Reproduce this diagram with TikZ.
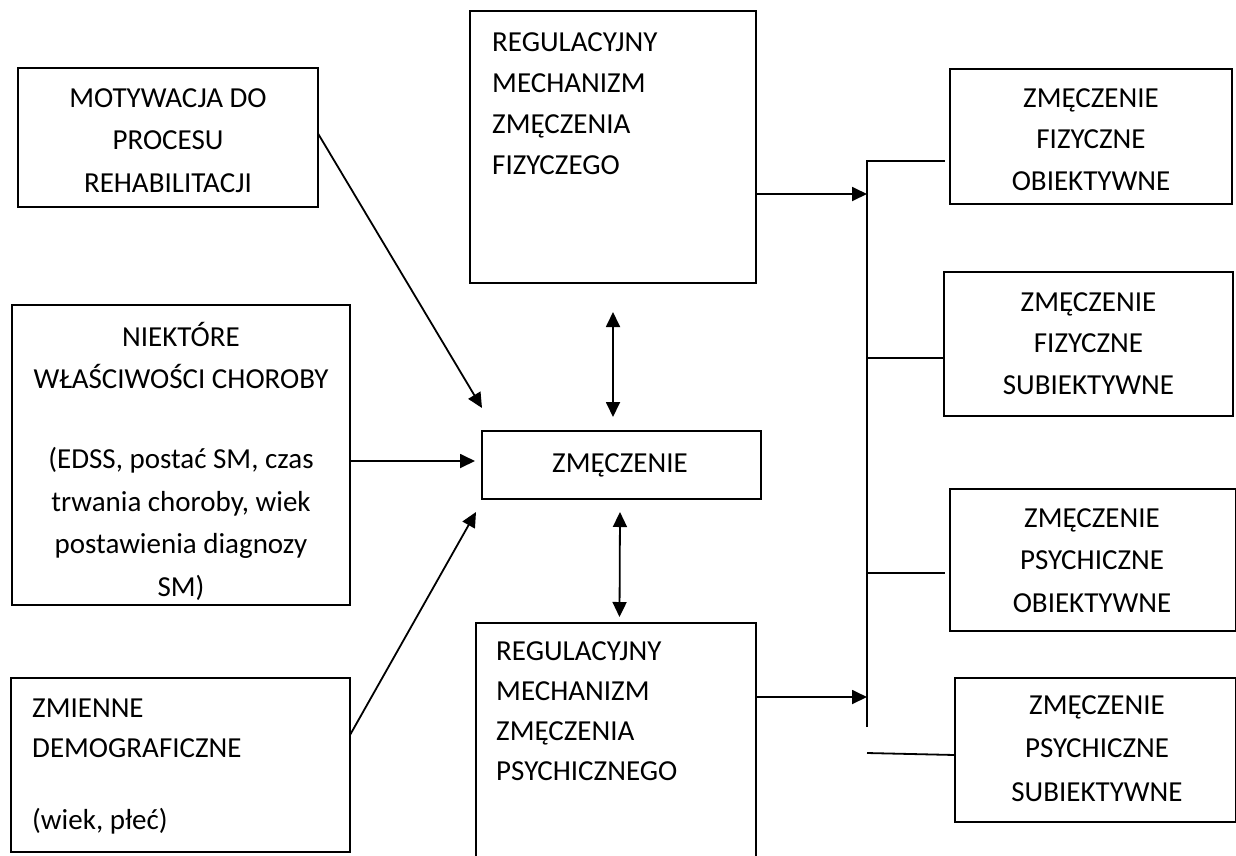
\documentclass[tikz,border=0pt]{standalone}
\usepackage{fontspec}
\setmainfont{Carlito}
\usetikzlibrary{arrows.meta}
\begin{document}
\begin{tikzpicture}[x=1pt,y=-1pt,
  box/.style={draw, line width=1.8pt, inner sep=0pt, outer sep=0pt},
  ln/.style={line width=1.8pt},
  arr/.style={ln, -{Triangle[length=15pt,width=14pt]}},
  darr/.style={ln, {Triangle[length=15pt,width=14pt]}-{Triangle[length=15pt,width=14pt]}},
  ts/.style={inner sep=0pt, font=\fontsize{29}{#1}\selectfont},
  ts/.default=42.5
]
\useasboundingbox (0,0) rectangle (1236,855);
\clip (0,0) rectangle (1236,855);

% boxes
\node[box, minimum width=300pt, minimum height=139pt] (mot) at (168,137.5) {};
\node[box, minimum width=338pt, minimum height=300pt] (niek) at (181,455) {};
\node[box, minimum width=339pt, minimum height=174pt] (zmien) at (180.5,765) {};
\node[box, minimum width=286pt, minimum height=272pt] (reg1) at (613,147) {};
\node[box, minimum width=279pt, minimum height=68pt] (zm) at (621.5,465) {};
\node[box, minimum width=280pt, minimum height=257pt] (reg2) at (616,751.5) {};
\node[box, minimum width=282pt, minimum height=135pt] (r1) at (1091,136.5) {};
\node[box, minimum width=289pt, minimum height=144pt] (r2) at (1088.5,344) {};
\node[box, minimum width=286pt, minimum height=142pt] (r3) at (1093,560) {};
\node[box, minimum width=281pt, minimum height=144pt] (r4) at (1095.5,750) {};

% texts
\node[ts, anchor=base] (tmot) at (168,107) {\begin{tabular}[t]{@{}c@{}}MOTYWACJA DO\\PROCESU\\REHABILITACJI\end{tabular}};
\node[ts, anchor=base] (tniek) at (181,346) {\begin{tabular}[t]{@{}c@{}}NIEKTÓRE\\WŁAŚCIWOŚCI CHOROBY\\[37.5pt](EDSS, postać SM, czas\\trwania choroby, wiek\\postawienia diagnozy\\SM)\end{tabular}};
\node[ts=40, anchor=base west] (tzmien) at (32,717) {\begin{tabular}[t]{@{}l@{}}ZMIENNE\\DEMOGRAFICZNE\\[32pt](wiek, płeć)\end{tabular}};
\node[ts=41, anchor=base west] (treg1) at (492,51) {\begin{tabular}[t]{@{}l@{}}REGULACYJNY\\MECHANIZM\\ZMĘCZENIA\\FIZYCZEGO\end{tabular}};
\node[ts, anchor=base] (tzm) at (620,472) {ZMĘCZENIE};
\node[ts=40, anchor=base west] (treg2) at (496,660) {\begin{tabular}[t]{@{}l@{}}REGULACYJNY\\MECHANIZM\\ZMĘCZENIA\\PSYCHICZNEGO\end{tabular}};
\node[ts=41.5, anchor=base] (tr1) at (1091,107) {\begin{tabular}[t]{@{}c@{}}ZMĘCZENIE\\FIZYCZNE\\OBIEKTYWNE\end{tabular}};
\node[ts=41.5, anchor=base] (tr2) at (1088.5,311) {\begin{tabular}[t]{@{}c@{}}ZMĘCZENIE\\FIZYCZNE\\SUBIEKTYWNE\end{tabular}};
\node[ts=42.5, anchor=base] (tr3) at (1092,527) {\begin{tabular}[t]{@{}c@{}}ZMĘCZENIE\\PSYCHICZNE\\OBIEKTYWNE\end{tabular}};
\node[ts=43.5, anchor=base] (tr4) at (1097,714) {\begin{tabular}[t]{@{}c@{}}ZMĘCZENIE\\PSYCHICZNE\\SUBIEKTYWNE\end{tabular}};

% connector points
\coordinate (tT) at (867,161);
\coordinate (tB) at (867,727);
\coordinate (t1) at (867,194);
\coordinate (t2) at (867,358);
\coordinate (t3) at (867,573);
\coordinate (t4) at (867,697);
\coordinate (b1) at (945,161);
\coordinate (b3) at (945,573);
\coordinate (s4) at (867,753);
\coordinate (d1a) at (613,312);
\coordinate (d1b) at (613,417);
\coordinate (d2a) at (620,512);
\coordinate (d2b) at (619.5,617);
\coordinate (inM) at (482,408);
\coordinate (inN) at (475,461);
\coordinate (inZ) at (476,512);

% right side
\draw[ln] (tB) -- (tT) -- (b1);
\draw[arr] (reg1.east |- t1) -- (t1);
\draw[ln] (t2) -- (r2.west |- t2);
\draw[ln] (t3) -- (b3);
\draw[arr] (reg2.east |- t4) -- (t4);
\draw[ln] (s4) -- ([yshift=-5pt]r4.west);

% middle
\draw[darr] (d1a) -- (d1b);
\draw[darr] (d2a) -- (d2b);

% left inputs
\draw[arr] ([yshift=4pt]mot.east) -- (inM);
\draw[arr] (niek.east |- inN) -- (inN);
\draw[arr] ([yshift=30pt]zmien.east) -- (inZ);
\end{tikzpicture}
\end{document}
